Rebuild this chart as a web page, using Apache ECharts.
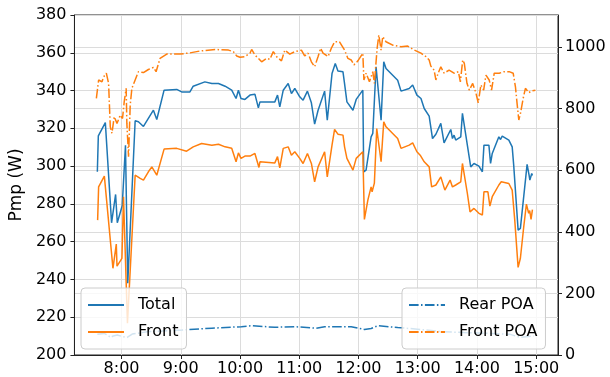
<!DOCTYPE html>
<html>
<head>
<meta charset="utf-8">
<script src="https://cdn.jsdelivr.net/npm/echarts@6/dist/echarts.min.js"></script>
<style>
html,body{margin:0;padding:0;background:#fff;}
#chart{width:610px;height:377px;}
</style>
</head>
<body>
<div id="chart"></div>
<script>
// time in minutes after midnight, value
const xTickLabels = ['8:00','9:00','10:00','11:00','12:00','13:00','14:00','15:00'];
const leftTicks = [200,220,240,260,280,300,320,340,360,380];
const rightTicks = [0,200,400,600,800,1000];

const totalPts = [
[455.5,297],[456.5,316],[463.6,323],[469.9,270],[474,285],[475.7,270],[480.7,279],[484,311],[486.3,238],
[493.8,324],[497.1,323.5],[502.2,321],[512.3,329.6],[515.7,324.7],[523.1,340.2],[535.9,340.6],[540.9,339.3],
[549.3,339.3],[552.6,342.3],[564.4,344.6],[571.5,343.7],[578.2,343.7],[584.9,342.3],[591.6,340.2],[596,335.8],
[598.4,340.2],[601,335.8],[605,335.3],[610.1,337.6],[615.1,338.1],[618.6,330.8],[620.2,334],[635.3,334],
[638,337.6],[640.3,331.4],[643.8,340.2],[648.8,343.7],[652.1,338.4],[655.5,341.1],[660.5,336.7],[663.9,334.9],
[668.3,339.7],[672.3,333.5],[675.6,322.2],[679.1,329.6],[685.7,339.7],[688.4,324.3],[693.2,349],[696.5,354.3],
[699.2,350.4],[704.3,349.9],[705.9,343.7],[708.3,334],[714.4,329.6],[717.7,335.3],[724.4,340.2],[725.3,297],
[727.7,297.9],[732.8,315.5],[734.5,317.3],[737.8,352.6],[742.9,324.3],[745.6,355.2],[747.9,351.7],[759.7,345.5],
[763.1,339.7],[771.4,341.1],[774.9,342.9],[779.2,337.6],[783.3,335.8],[786.6,330.5],[791.6,326.5],[795,314.6],
[798.4,316.9],[803.4,322.6],[806.7,312.3],[813.5,319.4],[815.2,314.6],[816.8,316.4],[818.5,313.8],[823.6,315.5],
[825.3,327.9],[833.7,299.6],[837,301.4],[842,300],[845.5,297],[847.1,311.1],[852.1,311.1],[853.8,301.4],
[855.5,306.7],[862.2,315.5],[863.9,314.1],[865.6,315.9],[872.3,313.8],[875.7,310.2],[877.3,300],[881.7,266.1],
[884,267],[890.8,300.9],[892.8,295.2],[893.6,292.6],[895.5,296.1],[896.2,295]
];

const frontPts = [
[455.8,271.4],[456.8,289],[462.6,294.7],[471.3,245.9],[474.7,258.7],[475.4,247],[480.4,251.2],[482,283.8],
[486,216.8],[493.8,295.2],[498.9,293.5],[502.2,292.6],[507.2,297],[510.7,299.6],[515.7,295.2],[523.1,309],
[535.9,309.4],[545.9,307.9],[552.6,310.2],[561.1,312],[571.5,311.1],[578.2,311.6],[584.9,310.2],[591.6,309.4],
[596,302.3],[598.4,307],[601,304.1],[605,305.3],[610.1,305.3],[615.1,306.7],[619.2,299.3],[620.2,302.3],
[635.3,301.7],[638,305],[640.3,299.1],[643.8,309.4],[648.8,310.2],[652.1,305.8],[655.5,307.6],[660.5,304.1],
[663.9,301.4],[668.3,306.7],[672.3,301.4],[675.6,291.7],[679.1,299.6],[685.7,307.6],[688.4,294.3],[693.2,311.1],
[695.8,319.4],[699.2,316.9],[704.3,316.4],[705.9,310.2],[708.3,304.1],[714.4,297.9],[717.7,304.1],[724.4,307.6],
[726,271.8],[729.5,282],[732.8,289],[733.8,286.4],[736.1,291],[738.5,319.9],[742.9,302.3],[745.6,323.5],
[747.9,320.8],[759.7,314.6],[763.1,309.4],[771.4,311.1],[774.9,312.3],[779.2,307.6],[782.5,305.8],[786.6,302.3],
[791.6,299.6],[794.1,289],[798.4,290],[803.4,294.3],[807.5,287.3],[812.8,292.6],[815.2,289],[818.5,290],
[823.6,291.7],[825.3,301.4],[830.3,285.5],[833,275.8],[837,277.6],[842,275],[845.5,274.1],[847.1,286.4],
[851.1,286.4],[853.1,278.8],[855.5,283.8],[862.2,290],[864.6,291.7],[872.3,290.8],[875.7,287.3],[878.3,271.4],
[881.7,246.4],[884,251.2],[887.4,267.9],[890.1,279.9],[892.4,275],[893.4,276.5],[894.8,271.8],[896.2,277]
];

const rearPoaPts = [
[455.5,67],[462.3,70],[465.6,65],[468.9,57],[471.6,62],[475.7,65],[480.7,60],[485.7,57],[490.8,68],
[507.6,76],[541.2,81],[571.5,87],[601.4,92],[611.8,95],[635.3,90],[655.5,92],[677.3,87],[685.7,92],
[712.6,92],[726,83],[732.8,86],[739.6,95],[759.7,89],[779.9,84],[803.4,76],[826.9,73],[853.8,70],
[873.7,67],[884,57],[897.5,62]
];

const frontPoaPts = [
[454.5,833],[456.8,893],[460.2,887],[461.8,903],[464.6,915],[466.9,882],[468.6,741],[470.3,720],[472.6,774],
[475.4,752],[478.7,779],[481,768],[482.7,822],[484.7,866],[485.4,752],[487.1,644],[488.8,812],[490.5,866],
[493.8,893],[497.1,920],[502.2,917],[507.2,927],[512.3,934],[515,920],[519,963],[525.8,977],[539.2,977],
[549.3,981],[559.4,987],[574.8,992],[588.3,990],[593.3,985],[596.7,971],[600,967],[605,969],[610.1,980],
[611.8,992],[615.1,974],[618.6,963],[621.9,952],[627,963],[630.3,960],[633.7,985],[637,969],[642,955],
[645.4,990],[650.4,977],[655.5,985],[662.2,990],[665.5,971],[668.9,980],[672.3,952],[675.6,936],[679.1,969],
[681.7,996],[684.1,980],[689.2,969],[692.5,996],[695.8,1017],[700.8,1017],[705.9,990],[709.3,963],[712.6,958],
[715.4,942],[719.4,955],[724.4,980],[725.5,893],[727.7,915],[731.1,887],[734.5,920],[736.1,882],[738.9,996],
[740.6,1039],[742.9,990],[744.6,1034],[747.9,1017],[754.7,1006],[763.1,1001],[769.8,1003],[776.5,990],
[783.3,980],[788.3,969],[791.6,958],[793.3,938],[796.6,925],[798.4,893],[800.7,915],[803.4,936],[806.7,915],
[811.8,925],[816.8,915],[821.2,920],[823.2,887],[825.6,958],[827.2,947],[829.9,882],[832.3,860],[835.7,882],
[839,850],[841.3,819],[844,877],[846.8,860],[849.1,909],[852.4,893],[854.8,860],[857.5,915],[862.5,915],
[867.5,920],[872.6,920],[876.7,915],[879,871],[880.8,812],[882.4,763],[884.1,785],[886.8,833],[889.1,866],
[892.5,852],[895.9,858],[899.2,860]
];

const BLUE = '#1f77b4', ORANGE = '#ff7f0e';
const FONT = 'DejaVu Sans';
const toMin = s => { const p = s.split(':'); return (+p[0]) * 60 + (+p[1]); };
const fmtMin = v => { const h = Math.floor(v / 60), m = Math.round(v - h * 60); return h + ':' + (m < 10 ? '0' : '') + m; };
const xTickVals = xTickLabels.map(toMin);
const dashDot = [9.6, 2.4, 1.5, 2.4];

const chart = echarts.init(document.getElementById('chart'), null, {renderer: 'canvas'});
const axisLineStyle = {show: true, lineStyle: {color: '#222', width: 1}};
const splitStyle = {show: true, lineStyle: {color: '#dcdcdc', width: 1}};
const labelStyle = {color: '#000', fontSize: 16, fontFamily: FONT};

const legendCommon = {
  orient: 'vertical', itemWidth: 36, itemHeight: 14, itemGap: 11,
  padding: [9, 8, 9, 6], borderColor: '#cccccc', borderWidth: 1, borderRadius: 4,
  backgroundColor: 'rgba(255,255,255,0.8)',
  itemStyle: {opacity: 0},
  textStyle: {color: '#000', fontSize: 16, fontFamily: FONT, padding: [0, 0, 0, 9]}
};

chart.setOption({
  animation: false,
  backgroundColor: '#fff',
  textStyle: {fontFamily: FONT},
  grid: {left: 72, right: 52, top: 15, bottom: 22, show: true, borderColor: '#222', borderWidth: 1, backgroundColor: 'transparent'},
  legend: [
    Object.assign({left: 81, top: 288, data: ['Total', 'Front']}, legendCommon),
    Object.assign({left: 402, top: 288, data: ['Rear POA', 'Front POA']}, legendCommon)
  ],
  xAxis: {
    type: 'value', min: 432.3, max: 922.1,
    axisLine: axisLineStyle,
    axisTick: {show: true, length: 4, lineStyle: {color: '#222'}, customValues: xTickVals},
    axisLabel: Object.assign({margin: 6, formatter: fmtMin, customValues: xTickVals}, labelStyle),
    splitLine: splitStyle
  },
  yAxis: [
    {
      type: 'value', min: 200, max: 380, interval: 20, position: 'left',
      name: 'Pmp (W)', nameLocation: 'middle', nameGap: 44,
      nameTextStyle: {color: '#000', fontSize: 17, fontFamily: FONT},
      axisLine: axisLineStyle,
      axisTick: {show: true, length: 4, lineStyle: {color: '#222'}, customValues: leftTicks},
      axisLabel: Object.assign({margin: 8, customValues: leftTicks, formatter: v => String(v)}, labelStyle),
      splitLine: splitStyle
    },
    {
      type: 'value', min: 0, max: 1104, position: 'right',
      axisLine: axisLineStyle,
      axisTick: {show: true, length: 4, lineStyle: {color: '#222'}, customValues: rightTicks},
      axisLabel: Object.assign({margin: 7, customValues: rightTicks, formatter: v => String(v)}, labelStyle),
      splitLine: splitStyle
    }
  ],
  series: [
    {name: 'Total', type: 'line', yAxisIndex: 0, data: totalPts, showSymbol: false, symbol: 'none',
     lineStyle: {color: BLUE, width: 1.5}, itemStyle: {color: BLUE}},
    {name: 'Front', type: 'line', yAxisIndex: 0, data: frontPts, showSymbol: false, symbol: 'none',
     lineStyle: {color: ORANGE, width: 1.5}, itemStyle: {color: ORANGE}},
    {name: 'Rear POA', type: 'line', yAxisIndex: 1, data: rearPoaPts, showSymbol: false, symbol: 'none',
     lineStyle: {color: BLUE, width: 1.5, type: dashDot}, itemStyle: {color: BLUE}},
    {name: 'Front POA', type: 'line', yAxisIndex: 1, data: frontPoaPts, showSymbol: false, symbol: 'none',
     lineStyle: {color: ORANGE, width: 1.5, type: dashDot}, itemStyle: {color: ORANGE}}
  ]
});
</script>
</body>
</html>
